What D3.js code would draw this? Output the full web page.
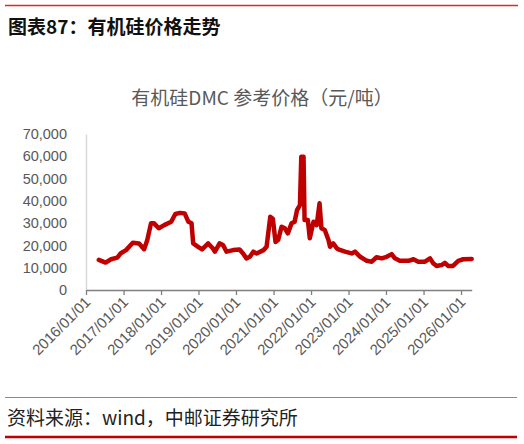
<!DOCTYPE html>
<html>
<head>
<meta charset="utf-8">
<script src="https://cdn.jsdelivr.net/npm/d3@7"></script>
<style>
  body { margin: 0; background: #fff; }
  svg { display: block; }
  .ytick text, .xtick text { fill: #595959; font-family: "Liberation Sans", Arial, sans-serif; }
</style>
</head>
<body>
<svg id="chart" width="524" height="444"></svg>
<script>
  // DMC reference price, yuan / ton
  var dates = [
    "2016-05-05","2016-07-10","2016-09-01","2016-11-01","2016-12-05",
    "2017-01-25","2017-04-01","2017-06-01","2017-07-20","2017-08-20","2017-09-25","2017-10-25","2017-12-10",
    "2018-02-01","2018-04-10","2018-05-20","2018-07-05","2018-08-20","2018-09-25","2018-10-25","2018-11-10","2018-12-28",
    "2019-02-05","2019-04-05","2019-05-20","2019-06-10","2019-07-25","2019-08-28","2019-10-01","2019-12-05",
    "2020-02-05","2020-03-10","2020-04-12","2020-05-15","2020-06-18","2020-07-20","2020-09-25","2020-10-25","2020-11-30","2020-12-25",
    "2021-01-20","2021-02-15","2021-03-20","2021-04-20","2021-05-20","2021-06-25","2021-07-25","2021-08-18","2021-09-15","2021-09-28","2021-10-20","2021-10-30","2021-12-01","2021-12-20",
    "2022-01-25","2022-02-25","2022-03-25","2022-04-12","2022-05-15","2022-06-20","2022-07-05","2022-08-05","2022-09-10","2022-09-25","2022-11-28",
    "2023-02-01","2023-03-05","2023-04-25","2023-06-28","2023-08-15","2023-10-01","2023-11-20",
    "2024-01-08","2024-02-25","2024-03-28","2024-05-15","2024-08-08","2024-09-25","2024-11-10",
    "2025-01-15","2025-03-05","2025-04-05","2025-05-08","2025-06-25","2025-07-28","2025-08-28","2025-10-15","2025-12-05",
    "2026-01-22","2026-04-15"
  ];
  var prices = [
    13500,12300,13800,14500,16500,
    17900,21200,20900,18300,22400,29900,29900,27700,
    29100,30600,34100,34600,34300,30600,29900,20900,19400,
    18200,20900,18700,17200,20900,20200,17200,17900,
    18200,16400,14200,14900,17200,16400,17900,19400,32900,32000,
    21500,22500,28400,27700,25400,29900,30600,35900,38100,59800,59800,31400,31400,23200,
    30600,29100,38900,27700,26900,22400,19400,20900,18700,18200,17200,
    16400,17200,14900,13100,12700,14700,14200,
    14900,16100,14200,13100,13100,13800,12700,
    12700,14200,12000,10800,11200,12200,10800,10800,13100,
    13800,13900
  ];
  var yTicks = [0, 10000, 20000, 30000, 40000, 50000, 60000, 70000];
  var xTickYears = [2016, 2017, 2018, 2019, 2020, 2021, 2022, 2023, 2024, 2025, 2026];

  var parse = d3.timeParse("%Y-%m-%d");
  var data = dates.map(function(d, i) { return { date: parse(d), value: prices[i] }; });

  var svg = d3.select("#chart");

  // header rule + caption
  svg.append("line").attr("x1", 5).attr("x2", 518).attr("y1", 5.5).attr("y2", 5.5)
     .attr("stroke", "#e0282a").attr("stroke-width", 1.5);
  svg.append("text").attr("x", 8).attr("y", 34)
     .attr("font-family", "'Noto Sans CJK SC', sans-serif").attr("font-weight", 700)
     .attr("font-size", 19).attr("fill", "#111")
     .text("图表87：有机硅价格走势");

  svg.append("text").attr("x", 262).attr("y", 105).attr("text-anchor", "middle")
     .attr("font-family", "'Noto Sans CJK SC', sans-serif")
     .attr("font-size", 19).attr("fill", "#595959")
     .text("有机硅DMC 参考价格（元/吨）");

  var x = d3.scaleTime()
    .domain([new Date(2016, 0, 1), new Date(2026, 3, 15)])
    .range([86, 471.7]);
  var y = d3.scaleLinear().domain([0, 70000]).range([290, 134]);

  // y axis
  var yAxis = svg.append("g").attr("class", "ytick").attr("transform", "translate(86,0)")
    .call(d3.axisLeft(y).tickValues(yTicks).tickSize(0).tickPadding(19).tickFormat(d3.format(",")));
  yAxis.select(".domain").attr("stroke", "#d9d9d9").attr("stroke-width", 1.5);
  yAxis.selectAll("text").attr("font-size", 14.5);

  // x axis
  var xAxis = svg.append("g").attr("class", "xtick").attr("transform", "translate(0,290)")
    .call(d3.axisBottom(x)
      .tickValues(xTickYears.map(function(yr) { return new Date(yr, 0, 1); }))
      .tickSize(5).tickSizeOuter(0)
      .tickFormat(d3.timeFormat("%Y/%m/%d")));
  xAxis.select(".domain").attr("stroke", "#7f7f7f").attr("stroke-width", 1.5);
  xAxis.selectAll(".tick line").attr("stroke", "#7f7f7f").attr("stroke-width", 1.3);
  xAxis.selectAll("text")
    .attr("font-size", 15)
    .attr("text-anchor", "end")
    .attr("dy", 0).attr("y", 0)
    .attr("transform", "translate(5,13) rotate(-45)");

  // price line
  var line = d3.line()
    .x(function(d) { return x(d.date); })
    .y(function(d) { return y(d.value); })
    .curve(d3.curveLinear);
  svg.append("path").datum(data)
    .attr("d", line)
    .attr("fill", "none")
    .attr("stroke", "#c00000")
    .attr("stroke-width", 4.5)
    .attr("stroke-linejoin", "round")
    .attr("stroke-linecap", "round");

  // footer
  svg.append("line").attr("x1", 5).attr("x2", 517).attr("y1", 397.5).attr("y2", 397.5)
     .attr("stroke", "#e06666").attr("stroke-width", 1);
  svg.append("text").attr("x", 7).attr("y", 425)
     .attr("font-family", "'Noto Sans CJK SC', sans-serif")
     .attr("font-size", 19).attr("fill", "#222")
     .text("资料来源：wind，中邮证券研究所");
  svg.append("line").attr("x1", 5).attr("x2", 517).attr("y1", 437).attr("y2", 437)
     .attr("stroke", "#c00000").attr("stroke-width", 2.5);
</script>
</body>
</html>
